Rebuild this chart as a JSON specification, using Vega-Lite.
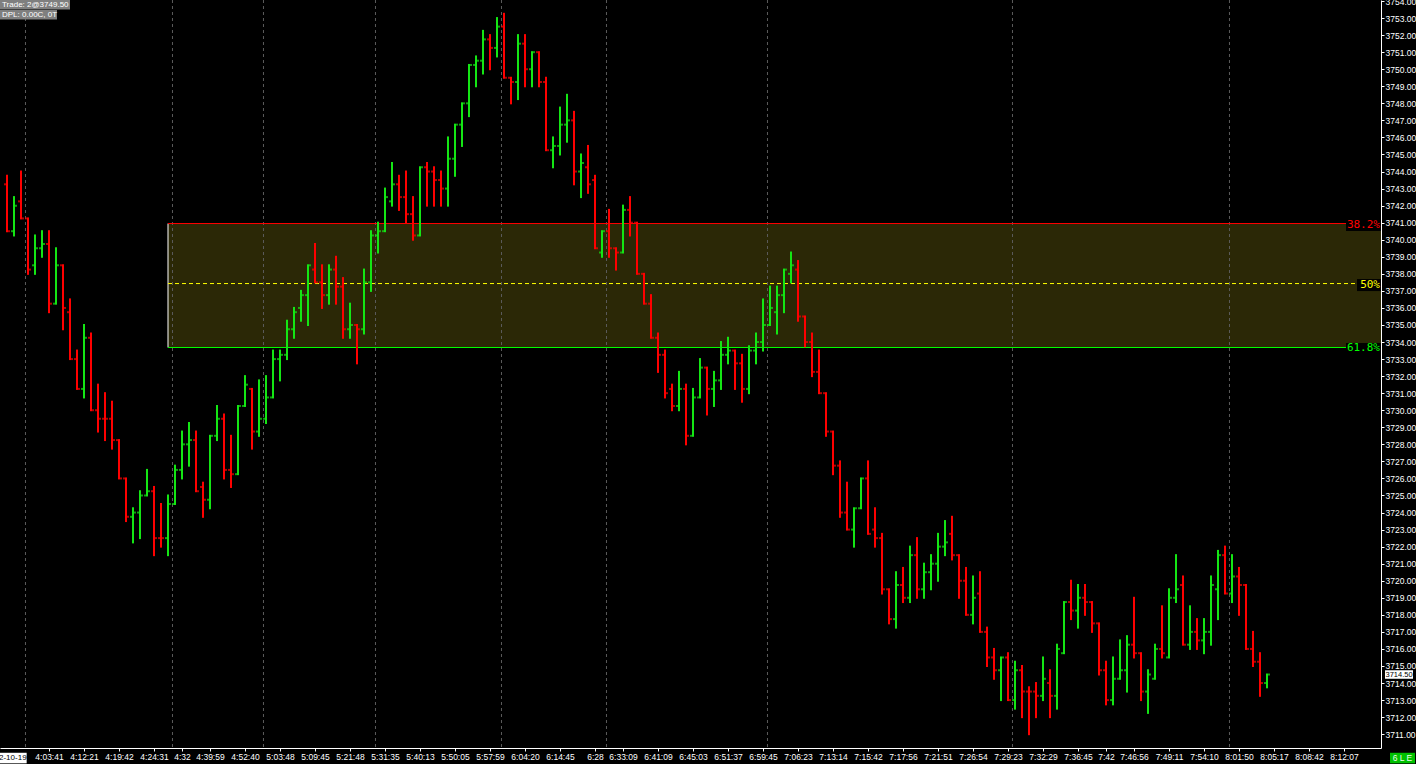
{
"$schema": "https://vega.github.io/schema/vega-lite/v6.json",
"width": 1381, "height": 748,
"autosize": {"type": "none"},
"padding": {"left": 0, "top": 0, "right": 35, "bottom": 16},
"background": "#000000",
"config": {"view": {"stroke": null}, "font": "Liberation Sans"},
"datasets": {
"bars": [
{"i":1,"o":3743.25,"h":3743.75,"l":3740.5,"c":3740.5},
{"i":2,"o":3740.5,"h":3742.5,"l":3740.25,"c":3742.0},
{"i":3,"o":3742.25,"h":3744,"l":3741.25,"c":3741.25},
{"i":4,"o":3741.25,"h":3741.25,"l":3738,"c":3738.25},
{"i":5,"o":3738.5,"h":3740.25,"l":3738,"c":3739.5},
{"i":6,"o":3739.5,"h":3740.5,"l":3739,"c":3739.75},
{"i":7,"o":3739.75,"h":3740.5,"l":3735.75,"c":3736.25},
{"i":8,"o":3736.25,"h":3739.5,"l":3736.25,"c":3738.5},
{"i":9,"o":3738.5,"h":3738.5,"l":3734.75,"c":3736.0},
{"i":10,"o":3735.75,"h":3736.5,"l":3733,"c":3733},
{"i":11,"o":3733,"h":3733.5,"l":3731.25,"c":3731.25},
{"i":12,"o":3731.25,"h":3735,"l":3730.75,"c":3734.25},
{"i":13,"o":3734.25,"h":3734.5,"l":3730,"c":3730},
{"i":14,"o":3730,"h":3731.5,"l":3728.75,"c":3729.5},
{"i":15,"o":3729.5,"h":3731,"l":3728.25,"c":3729.5},
{"i":16,"o":3729.5,"h":3730.5,"l":3727.75,"c":3728.25},
{"i":17,"o":3728.25,"h":3728.25,"l":3726,"c":3726},
{"i":18,"o":3726,"h":3726,"l":3723.5,"c":3723.75},
{"i":19,"o":3723.75,"h":3724.25,"l":3722.25,"c":3724},
{"i":20,"o":3724,"h":3725.25,"l":3722.5,"c":3725},
{"i":21,"o":3725,"h":3726.5,"l":3725,"c":3725.25},
{"i":22,"o":3725.25,"h":3725.5,"l":3721.5,"c":3722.5},
{"i":23,"o":3722.5,"h":3724.5,"l":3722,"c":3722.5},
{"i":24,"o":3722.5,"h":3725,"l":3721.5,"c":3724.5},
{"i":25,"o":3724.5,"h":3726.75,"l":3724.5,"c":3726.5},
{"i":26,"o":3726.5,"h":3728.75,"l":3726,"c":3728},
{"i":27,"o":3728,"h":3729.25,"l":3726.75,"c":3728.25},
{"i":28,"o":3728.25,"h":3728.75,"l":3725.25,"c":3725.25},
{"i":29,"o":3725.5,"h":3725.75,"l":3723.75,"c":3724.75},
{"i":30,"o":3724.75,"h":3728.5,"l":3724.25,"c":3728.5},
{"i":31,"o":3728.5,"h":3730.25,"l":3728.25,"c":3729.5},
{"i":32,"o":3729.5,"h":3729.75,"l":3726,"c":3726.5},
{"i":33,"o":3726.5,"h":3728.5,"l":3725.5,"c":3726.25},
{"i":34,"o":3726.25,"h":3730.25,"l":3726.25,"c":3730.25},
{"i":35,"o":3730.25,"h":3732,"l":3730.25,"c":3731.5},
{"i":36,"o":3731.25,"h":3731.25,"l":3727.75,"c":3728.75},
{"i":37,"o":3728.75,"h":3731.75,"l":3728.5,"c":3729.5},
{"i":38,"o":3729.5,"h":3732,"l":3729.25,"c":3730.75},
{"i":39,"o":3730.75,"h":3733.5,"l":3730.75,"c":3733},
{"i":40,"o":3733,"h":3733.5,"l":3731.75,"c":3733.25},
{"i":41,"o":3733.25,"h":3735.25,"l":3733,"c":3734.75},
{"i":42,"o":3734.75,"h":3736,"l":3734.25,"c":3735.75},
{"i":43,"o":3736,"h":3737,"l":3735.25,"c":3736.75},
{"i":44,"o":3736.75,"h":3738.5,"l":3735,"c":3738.5},
{"i":45,"o":3738.25,"h":3739.75,"l":3737.5,"c":3737.5},
{"i":46,"o":3737.5,"h":3738.5,"l":3736,"c":3736.75},
{"i":47,"o":3736.75,"h":3738.5,"l":3736.25,"c":3738.25},
{"i":48,"o":3738.25,"h":3739,"l":3736.25,"c":3737.25},
{"i":49,"o":3737.25,"h":3737.75,"l":3734.25,"c":3734.75},
{"i":50,"o":3734.75,"h":3736.25,"l":3734.25,"c":3735},
{"i":51,"o":3735,"h":3735,"l":3732.75,"c":3734.75},
{"i":52,"o":3734.75,"h":3738.25,"l":3734.5,"c":3737.5},
{"i":53,"o":3737.5,"h":3740.5,"l":3737,"c":3740.25},
{"i":54,"o":3740.25,"h":3741,"l":3739.25,"c":3740.5},
{"i":55,"o":3740.5,"h":3743,"l":3740.5,"c":3742.5},
{"i":56,"o":3742.25,"h":3744.5,"l":3742,"c":3743.25},
{"i":57,"o":3743.25,"h":3743.75,"l":3741.75,"c":3742.5},
{"i":58,"o":3742.5,"h":3744,"l":3741,"c":3741.5},
{"i":59,"o":3741.5,"h":3742.5,"l":3740,"c":3740.25},
{"i":60,"o":3740.25,"h":3744.25,"l":3740.25,"c":3744.25},
{"i":61,"o":3744.25,"h":3744.5,"l":3742,"c":3744},
{"i":62,"o":3744,"h":3744.25,"l":3742,"c":3743.5},
{"i":63,"o":3743.5,"h":3744,"l":3742,"c":3743},
{"i":64,"o":3743,"h":3746,"l":3742,"c":3744.75},
{"i":65,"o":3744.75,"h":3746.75,"l":3743.75,"c":3746.75},
{"i":66,"o":3746.75,"h":3748,"l":3745.5,"c":3748},
{"i":67,"o":3748,"h":3750.25,"l":3747.25,"c":3750.25},
{"i":68,"o":3750.25,"h":3750.75,"l":3749,"c":3750.5},
{"i":69,"o":3750.5,"h":3752.25,"l":3749.75,"c":3751.75},
{"i":70,"o":3751.75,"h":3752,"l":3750,"c":3751.25},
{"i":71,"o":3751.25,"h":3753,"l":3750.75,"c":3752.5},
{"i":72,"o":3752.5,"h":3753.25,"l":3749.5,"c":3749.5},
{"i":73,"o":3749.5,"h":3749.5,"l":3748,"c":3749.25},
{"i":74,"o":3749.25,"h":3752,"l":3748.25,"c":3751.5},
{"i":75,"o":3751.5,"h":3752,"l":3749,"c":3750},
{"i":76,"o":3750,"h":3751,"l":3749,"c":3751},
{"i":77,"o":3751,"h":3751,"l":3749,"c":3749.25},
{"i":78,"o":3749.25,"h":3749.5,"l":3745.25,"c":3745.25},
{"i":79,"o":3745.25,"h":3746,"l":3744.25,"c":3745.5},
{"i":80,"o":3745.5,"h":3747.75,"l":3745,"c":3746.75},
{"i":81,"o":3746.75,"h":3748.5,"l":3745.75,"c":3747},
{"i":82,"o":3747,"h":3747.5,"l":3743.25,"c":3744},
{"i":83,"o":3744,"h":3745,"l":3742.5,"c":3744.5},
{"i":84,"o":3744.25,"h":3745.5,"l":3742.75,"c":3743.25},
{"i":85,"o":3743.5,"h":3743.75,"l":3739.5,"c":3739.5},
{"i":86,"o":3739.25,"h":3740.5,"l":3739,"c":3740.5},
{"i":87,"o":3740.5,"h":3741.75,"l":3739,"c":3739.5},
{"i":88,"o":3739.5,"h":3739.5,"l":3738.25,"c":3739.25},
{"i":89,"o":3739.25,"h":3742,"l":3739.25,"c":3741.75},
{"i":90,"o":3741.75,"h":3742.5,"l":3740.25,"c":3741},
{"i":91,"o":3741,"h":3741,"l":3738,"c":3738},
{"i":92,"o":3738,"h":3738,"l":3736.25,"c":3736.25},
{"i":93,"o":3736.25,"h":3736.75,"l":3734.25,"c":3734.25},
{"i":94,"o":3734.25,"h":3734.5,"l":3732.25,"c":3733.25},
{"i":95,"o":3733.25,"h":3733.5,"l":3730.75,"c":3731},
{"i":96,"o":3731.25,"h":3731.5,"l":3730,"c":3730.25},
{"i":97,"o":3730.25,"h":3732.25,"l":3730,"c":3731.25},
{"i":98,"o":3731.25,"h":3731.5,"l":3728,"c":3728.5},
{"i":99,"o":3728.5,"h":3731.25,"l":3728.5,"c":3730.75},
{"i":100,"o":3730.75,"h":3733,"l":3730.75,"c":3732.5},
{"i":101,"o":3732.5,"h":3732.5,"l":3729.75,"c":3731.25},
{"i":102,"o":3731.25,"h":3732.25,"l":3730.25,"c":3731.75},
{"i":103,"o":3731.75,"h":3734,"l":3731.25,"c":3733.25},
{"i":104,"o":3733.25,"h":3734.25,"l":3732.75,"c":3733.5},
{"i":105,"o":3733.5,"h":3733.5,"l":3731.25,"c":3732.75},
{"i":106,"o":3732.75,"h":3733.25,"l":3730.5,"c":3731.25},
{"i":107,"o":3731.25,"h":3733.75,"l":3731,"c":3733.5},
{"i":108,"o":3733.5,"h":3734.5,"l":3732.75,"c":3734},
{"i":109,"o":3734,"h":3736.5,"l":3733.5,"c":3735},
{"i":110,"o":3735,"h":3737.25,"l":3735,"c":3736},
{"i":111,"o":3735.75,"h":3737.25,"l":3734.5,"c":3736.75},
{"i":112,"o":3736.75,"h":3738.25,"l":3735.75,"c":3738.25},
{"i":113,"o":3738,"h":3739.25,"l":3737.5,"c":3738.5},
{"i":114,"o":3738.25,"h":3738.75,"l":3735.25,"c":3735.5},
{"i":115,"o":3735.5,"h":3735.5,"l":3733.75,"c":3734},
{"i":116,"o":3734,"h":3734.5,"l":3732,"c":3732.25},
{"i":117,"o":3732.25,"h":3733.5,"l":3731,"c":3731},
{"i":118,"o":3731,"h":3731,"l":3728.5,"c":3728.75},
{"i":119,"o":3728.75,"h":3728.75,"l":3726.25,"c":3726.75},
{"i":120,"o":3726.75,"h":3727,"l":3723.75,"c":3724},
{"i":121,"o":3724,"h":3725.75,"l":3723,"c":3723},
{"i":122,"o":3723,"h":3724.25,"l":3722,"c":3724.25},
{"i":123,"o":3724.25,"h":3726,"l":3724.25,"c":3726},
{"i":124,"o":3726,"h":3727,"l":3722.75,"c":3722.75},
{"i":125,"o":3723,"h":3724.25,"l":3722,"c":3722.5},
{"i":126,"o":3722.5,"h":3722.75,"l":3719.25,"c":3719.5},
{"i":127,"o":3719.5,"h":3719.5,"l":3717.5,"c":3717.75},
{"i":128,"o":3717.75,"h":3720.5,"l":3717.25,"c":3719.75},
{"i":129,"o":3719.75,"h":3720.75,"l":3718.75,"c":3719.0},
{"i":130,"o":3719,"h":3722,"l":3718.75,"c":3721.5},
{"i":131,"o":3721.5,"h":3722.5,"l":3719,"c":3719.5},
{"i":132,"o":3719.5,"h":3721,"l":3719,"c":3720.5},
{"i":133,"o":3720.5,"h":3721.5,"l":3719.5,"c":3721},
{"i":134,"o":3721,"h":3722.75,"l":3720,"c":3722},
{"i":135,"o":3722,"h":3723.5,"l":3721.5,"c":3722.25},
{"i":136,"o":3722.75,"h":3723.75,"l":3721.25,"c":3721.5},
{"i":137,"o":3721.5,"h":3721.5,"l":3719,"c":3720},
{"i":138,"o":3720,"h":3720.75,"l":3718,"c":3718},
{"i":139,"o":3718,"h":3720.25,"l":3717.5,"c":3719},
{"i":140,"o":3719.25,"h":3720.5,"l":3717,"c":3717},
{"i":141,"o":3717,"h":3717.25,"l":3715,"c":3715.5},
{"i":142,"o":3715.5,"h":3716,"l":3714.25,"c":3714.75},
{"i":143,"o":3714.75,"h":3715.5,"l":3713,"c":3715.5},
{"i":144,"o":3715.5,"h":3715.75,"l":3713,"c":3713},
{"i":145,"o":3713,"h":3715.25,"l":3712.5,"c":3714.75},
{"i":146,"o":3714.75,"h":3715,"l":3712,"c":3713.5},
{"i":147,"o":3713.5,"h":3713.75,"l":3711,"c":3713.5},
{"i":148,"o":3713.5,"h":3714,"l":3712,"c":3713.25},
{"i":149,"o":3713.25,"h":3715.5,"l":3713,"c":3714.25},
{"i":150,"o":3714,"h":3714.75,"l":3712,"c":3713.25},
{"i":151,"o":3713.25,"h":3716.25,"l":3712.5,"c":3716},
{"i":152,"o":3715.75,"h":3718.75,"l":3715.75,"c":3718.75},
{"i":153,"o":3718.75,"h":3720,"l":3717.75,"c":3718.25},
{"i":154,"o":3718.25,"h":3719.75,"l":3717.25,"c":3719},
{"i":155,"o":3719,"h":3719.75,"l":3718,"c":3718.75},
{"i":156,"o":3718.75,"h":3718.75,"l":3717,"c":3717.5},
{"i":157,"o":3717.5,"h":3717.5,"l":3714.5,"c":3714.75},
{"i":158,"o":3714.75,"h":3715.25,"l":3712.75,"c":3713},
{"i":159,"o":3713,"h":3715.5,"l":3712.75,"c":3714.25},
{"i":160,"o":3714.25,"h":3716.5,"l":3714.25,"c":3714.75},
{"i":161,"o":3714.75,"h":3716.75,"l":3713.5,"c":3716.25},
{"i":162,"o":3716.25,"h":3719,"l":3715.5,"c":3715.75},
{"i":163,"o":3715.75,"h":3715.75,"l":3713,"c":3713.5},
{"i":164,"o":3713.5,"h":3714.75,"l":3712.25,"c":3714.5},
{"i":165,"o":3714.25,"h":3716.25,"l":3714.25,"c":3716},
{"i":166,"o":3716,"h":3718.5,"l":3715.5,"c":3715.75},
{"i":167,"o":3715.5,"h":3719.5,"l":3715.5,"c":3719},
{"i":168,"o":3719,"h":3721.5,"l":3718.75,"c":3719.5},
{"i":169,"o":3719.75,"h":3720.25,"l":3716.25,"c":3716.25},
{"i":170,"o":3716.25,"h":3718.5,"l":3716,"c":3717},
{"i":171,"o":3717,"h":3717.75,"l":3716,"c":3716.5},
{"i":172,"o":3716.5,"h":3717.75,"l":3715.75,"c":3717},
{"i":173,"o":3717,"h":3720.25,"l":3716.25,"c":3719.75},
{"i":174,"o":3719.5,"h":3721.75,"l":3717.75,"c":3721.5},
{"i":175,"o":3721.5,"h":3722,"l":3719.25,"c":3719.25},
{"i":176,"o":3719.25,"h":3721.5,"l":3718.75,"c":3720.25},
{"i":177,"o":3720.25,"h":3720.75,"l":3718,"c":3719.75},
{"i":178,"o":3719.75,"h":3719.75,"l":3716,"c":3716},
{"i":179,"o":3716,"h":3717,"l":3715,"c":3715.25},
{"i":180,"o":3715.25,"h":3715.75,"l":3713.25,"c":3714},
{"i":181,"o":3714,"h":3714.5,"l":3713.75,"c":3714.5}
],
"seps": [{"i":3.64},{"i":24.64},{"i":37.64},{"i":53.64},{"i":71.64},{"i":86.64},{"i":109.64},{"i":144.64},{"i":175.64}],
"fib": [{"label":"38.2%","price":3740.95},{"label":"50%","price":3737.43},{"label":"61.8%","price":3733.68}],
"zone": [{"from":24,"top":3740.95,"bottom":3733.68}]
},
"layer": [
{"data":{"name":"zone"},"mark":{"type":"rect","color":"#2b2806"},
 "encoding":{
  "x":{"field":"from","type":"quantitative","title":null,"scale":{"domain":[0,197.2857],"nice":false,"zero":false},
   "axis":{"orient":"bottom","title":null,"grid":false,"tickCount":500,"domainColor":"#ffffff","tickColor":"#ffffff","tickSize":3,"labelColor":"#ffffff","labelFont":"Liberation Sans","labelFontSize":8.5,"labelPadding":1,"labelOverlap":false,"labelFlush":false,"labelBound":false,
    "values":[7,12,17,22,26,30,35,40,45,50,55,60,65,70,75,80,85,89,94,99,104,109,114,119,124,129,134,139,144,149,154,158,162,167,172,177,182,187,192],
    "labelExpr":"['4:03:41','4:12:21','4:19:42','4:24:31','4:32','4:39:59','4:52:40','5:03:48','5:09:45','5:21:48','5:31:35','5:40:13','5:50:05','5:57:59','6:04:20','6:14:45','6:28','6:33:09','6:41:09','6:45:03','6:51:37','6:59:45','7:06:23','7:13:14','7:15:42','7:17:56','7:21:51','7:26:54','7:29:23','7:32:29','7:36:45','7:42','7:46:56','7:49:11','7:54:10','8:01:50','8:05:17','8:08:42','8:12:07'][indexof([7,12,17,22,26,30,35,40,45,50,55,60,65,70,75,80,85,89,94,99,104,109,114,119,124,129,134,139,144,149,154,158,162,167,172,177,182,187,192], datum.value)]"}},
  "x2":{"datum":197.2857},
  "y":{"field":"top","type":"quantitative","title":null,"scale":{"domain":[3710.19,3754.06],"nice":false,"zero":false},
   "axis":{"orient":"right","title":null,"grid":false,"tickCount":500,"format":".2f","domainColor":"#ffffff","tickColor":"#ffffff","tickSize":3,"labelColor":"#ffffff","labelFont":"Liberation Sans","labelFontSize":8.5,"labelPadding":1,"labelOverlap":false,"labelFlush":false,"labelBound":false,
    "values":[3711,3712,3713,3714,3715,3716,3717,3718,3719,3720,3721,3722,3723,3724,3725,3726,3727,3728,3729,3730,3731,3732,3733,3734,3735,3736,3737,3738,3739,3740,3741,3742,3743,3744,3745,3746,3747,3748,3749,3750,3751,3752,3753,3754]}},
  "y2":{"field":"bottom"}}},
{"data":{"name":"seps"},"mark":{"type":"rule","color":"#5c5c5c","strokeWidth":1,"strokeDash":[3,3]},
 "encoding":{"x":{"field":"i","type":"quantitative"}}},
{"data":{"name":"zone"},"mark":{"type":"rule","color":"#ffffff","strokeWidth":1},
 "encoding":{"x":{"field":"from","type":"quantitative"},"y":{"field":"top","type":"quantitative"},"y2":{"field":"bottom"}}},
{"data":{"name":"fib"},"mark":{"type":"rule","strokeWidth":1},
 "encoding":{"x":{"datum":24},"x2":{"datum":197.2857},"y":{"field":"price","type":"quantitative"},
  "color":{"field":"label","type":"nominal","scale":{"domain":["38.2%","50%","61.8%"],"range":["#ff0000","#ffff00","#00ff00"]},"legend":null},
  "strokeDash":{"field":"label","type":"nominal","scale":{"domain":["38.2%","50%","61.8%"],"range":[[1,0],[4,3],[1,0]]},"legend":null}}},
{"data":{"name":"bars"},"mark":{"type":"rule","strokeWidth":2,"strokeCap":"square"},
 "encoding":{"x":{"field":"i","type":"quantitative"},"y":{"field":"l","type":"quantitative"},"y2":{"field":"h"},
  "color":{"condition":{"test":"datum.c > datum.o","value":"#14e614"},"value":"#ff0000"}}},
{"data":{"name":"bars"},"mark":{"type":"tick","orient":"horizontal","size":2,"thickness":2,"xOffset":-2},
 "encoding":{"x":{"field":"i","type":"quantitative"},"y":{"field":"o","type":"quantitative"},
  "color":{"condition":{"test":"datum.c > datum.o","value":"#14e614"},"value":"#ff0000"}}},
{"data":{"name":"bars"},"mark":{"type":"tick","orient":"horizontal","size":2,"thickness":2,"xOffset":2},
 "encoding":{"x":{"field":"i","type":"quantitative"},"y":{"field":"c","type":"quantitative"},
  "color":{"condition":{"test":"datum.c > datum.o","value":"#14e614"},"value":"#ff0000"}}},
{"data":{"name":"fib"},"mark":{"type":"point","filled":true,"color":"#000000","opacity":1,"strokeWidth":0,"size":1225,"xOffset":-17.5,"yOffset":1.5},
 "encoding":{"x":{"datum":197.2857},"y":{"field":"price","type":"quantitative"},
  "shape":{"field":"label","type":"nominal","scale":{"domain":["38.2%","50%","61.8%"],"range":["M-1,-0.343H1V0.343H-1Z","M-0.371,-0.343H1V0.343H-0.371Z","M-1,-0.343H1V0.343H-1Z"]},"legend":null}}},
{"data":{"name":"fib"},"mark":{"type":"text","align":"right","baseline":"middle","dx":-1,"dy":1,"font":"DejaVu Sans Mono","fontSize":11},
 "encoding":{"x":{"datum":197.2857},"y":{"field":"price","type":"quantitative"},"text":{"field":"label"},
  "color":{"field":"label","type":"nominal","scale":{"domain":["38.2%","50%","61.8%"],"range":["#ff0000","#ffff00","#00ff00"]},"legend":null}}},
{"data":{"values":[{"t":"Trade: 2@3749.50"}]},"mark":{"type":"rect","color":"#7f7f7f"},
 "encoding":{"x":{"datum":0},"x2":{"datum":10},"y":{"datum":3754.06},"y2":{"datum":3753.5}}},
{"data":{"values":[{"t":"Trade: 2@3749.50"}]},"mark":{"type":"text","align":"left","baseline":"middle","dx":2,"fontSize":8,"color":"#ffffff"},
 "encoding":{"x":{"datum":0},"y":{"datum":3753.78},"text":{"field":"t"}}},
{"data":{"values":[{"t":"DPL: 0.00C, 0T"}]},"mark":{"type":"rect","color":"#7f7f7f"},
 "encoding":{"x":{"datum":0},"x2":{"datum":8.14},"y":{"datum":3753.47},"y2":{"datum":3752.92}}},
{"data":{"values":[{"t":"DPL: 0.00C, 0T"}]},"mark":{"type":"text","align":"left","baseline":"middle","dx":2,"fontSize":8,"color":"#ffffff"},
 "encoding":{"x":{"datum":0},"y":{"datum":3753.195},"text":{"field":"t"}}},
{"data":{"values":[{"t":"2-10-19"}]},"mark":{"type":"rect","color":"#ffffff"},
 "encoding":{"x":{"datum":0},"x2":{"datum":3.81},"y":{"datum":3709.91},"y2":{"datum":3709.29}}},
{"data":{"values":[{"t":"2-10-19"}]},"mark":{"type":"text","align":"left","baseline":"middle","dx":-1,"fontSize":8,"color":"#000000"},
 "encoding":{"x":{"datum":0},"y":{"datum":3709.6},"text":{"field":"t"}}},
{"data":{"values":[{"t":"3714.50"}]},"mark":{"type":"rect","color":"#ffffff"},
 "encoding":{"x":{"datum":197.86},"x2":{"datum":201.86},"y":{"datum":3714.75},"y2":{"datum":3714.25}}},
{"data":{"values":[{"t":"3714.50"}]},"mark":{"type":"text","align":"center","baseline":"middle","fontSize":7.5,"color":"#000000"},
 "encoding":{"x":{"datum":199.86},"y":{"datum":3714.5},"text":{"field":"t"}}},
{"data":{"values":[{"t":"6 L E"}]},"mark":{"type":"rect","color":"#00c000"},
 "encoding":{"x":{"datum":198.57},"x2":{"datum":202.14},"y":{"datum":3709.91},"y2":{"datum":3709.29}}},
{"data":{"values":[{"t":"6 L E"}]},"mark":{"type":"text","align":"center","baseline":"middle","fontSize":8.5,"color":"#e8ffe8"},
 "encoding":{"x":{"datum":200.36},"y":{"datum":3709.6},"text":{"field":"t"}}}
]
}
